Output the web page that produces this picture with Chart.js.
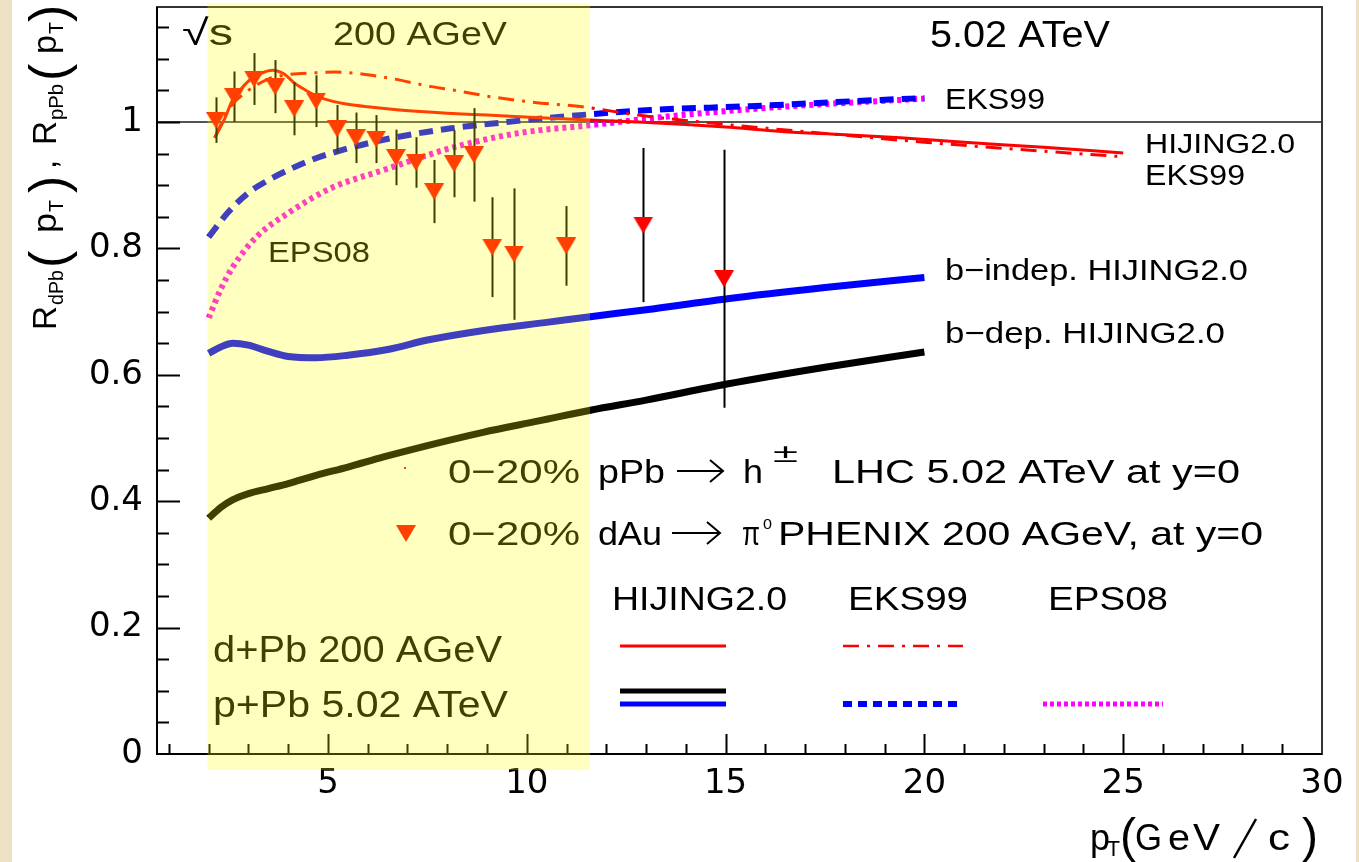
<!DOCTYPE html>
<html>
<head>
<meta charset="utf-8">
<script src="https://cdn.jsdelivr.net/npm/chart.js@4.4.1/dist/chart.umd.min.js"></script>
<style>
  html, body { margin: 0; padding: 0; background: #fff; overflow: hidden; }
  canvas { display: block; }
</style>
</head>
<body>
<canvas id="chart" width="1359" height="862"></canvas>
<script>
// Axis ticks
const xTicks = [5, 10, 15, 20, 25, 30];
const yTicks = [0, 0.2, 0.4, 0.6, 0.8, 1];

// PHENIX dAu -> pi0, 0-20%, 200 AGeV
const phenixPt  = [2.18, 2.64, 3.14, 3.67, 4.15, 4.70, 5.23, 5.70, 6.21, 6.71, 7.21, 7.67, 8.17, 8.67, 9.13, 9.68, 10.99, 12.93, 14.96];
const phenixR   = [1.003, 1.040, 1.068, 1.056, 1.021, 1.033, 0.989, 0.975, 0.973, 0.944, 0.936, 0.890, 0.934, 0.948, 0.802, 0.791, 0.804, 0.837, 0.752];
const phenixErr = [0.036, 0.040, 0.041, 0.042, 0.042, 0.041, 0.038, 0.040, 0.038, 0.044, 0.040, 0.050, 0.053, 0.074, 0.079, 0.104, 0.063, 0.122, 0.204];

// HIJING2.0, d+Pb 200 AGeV
const hijDPbPt = [2.15, 2.4, 2.6, 2.85, 3.1, 3.35, 3.6, 3.9, 4.15, 4.45, 4.75, 5.1, 5.5, 6.0, 6.8, 8.0, 9.0, 10.6, 12.0, 12.8, 14.0, 15.0, 16.4, 18.0, 19.4, 21.0, 23.0, 25.0];
const hijDPbR  = [0.975, 1.005, 1.035, 1.055, 1.070, 1.078, 1.082, 1.076, 1.062, 1.050, 1.040, 1.033, 1.028, 1.024, 1.019, 1.014, 1.011, 1.006, 1.002, 1.000, 0.996, 0.992, 0.985, 0.980, 0.975, 0.968, 0.960, 0.951];

// EKS99, d+Pb 200 AGeV
const eksDPbPt = [2.15, 2.5, 3.0, 3.5, 4.0, 4.7, 5.2, 6.4, 7.6, 8.1, 9.1, 10.2, 11.4, 12.8, 15.2, 17.5, 20, 22.5, 25];
const eksDPbR  = [0.975, 1.02, 1.05, 1.068, 1.075, 1.078, 1.079, 1.071, 1.056, 1.051, 1.040, 1.031, 1.024, 1.011, 0.995, 0.982, 0.968, 0.956, 0.945];

// EKS99, p+Pb 5.02 ATeV
const eksPPbPt = [2.0, 2.5, 3.0, 3.5, 4.0, 4.5, 5.1, 6.4, 8.1, 9.5, 10.8, 13.1, 15.6, 18.9, 20];
const eksPPbR  = [0.818, 0.858, 0.888, 0.908, 0.924, 0.938, 0.951, 0.972, 0.990, 1.000, 1.008, 1.019, 1.025, 1.035, 1.038];

// EPS08, p+Pb 5.02 ATeV
const epsPPbPt = [2.0, 2.3, 2.6, 3.2, 4.05, 5.1, 6.4, 8.1, 9.75, 11.6, 13.9, 16.4, 19.4, 20];
const epsPPbR  = [0.690, 0.735, 0.770, 0.818, 0.858, 0.896, 0.924, 0.959, 0.982, 0.995, 1.011, 1.024, 1.035, 1.037];

// b-indep. HIJING2.0, p+Pb
const bIndepPt = [2.0, 2.3, 2.6, 3.0, 3.5, 4.0, 4.7, 5.5, 6.5, 7.5, 9.0, 10.5, 11.6, 13, 15, 17.5, 20];
const bIndepR  = [0.634, 0.644, 0.650, 0.647, 0.637, 0.629, 0.627, 0.631, 0.640, 0.655, 0.671, 0.683, 0.692, 0.703, 0.720, 0.738, 0.754];

// b-dep. HIJING2.0, p+Pb
const bDepPt = [2.0, 2.3, 2.6, 3.0, 3.5, 4.0, 4.7, 5.5, 6.4, 7.5, 8.9, 10.3, 11.6, 13, 15, 17.5, 20];
const bDepR  = [0.373, 0.390, 0.402, 0.412, 0.420, 0.428, 0.441, 0.454, 0.470, 0.488, 0.509, 0.527, 0.544, 0.560, 0.585, 0.612, 0.636];

// PHENIX 200 GeV shaded region in pT
const bandFrom = 1.97;
const bandTo = 11.59;

const FONT = '"Liberation Sans", Arial, Helvetica, sans-serif';

function pts(xs, ys) {
    return xs.map((x, i) => ({x: x, y: ys[i]}));
}

// down-pointing triangle marker
function makeTriangle() {
    const c = document.createElement('canvas');
    c.width = 20;
    c.height = 17;
    const g = c.getContext('2d');
    g.fillStyle = '#ff0000';
    g.beginPath();
    g.moveTo(0, 0);
    g.lineTo(20, 0);
    g.lineTo(10, 17);
    g.closePath();
    g.fill();
    return c;
}
const triangle = makeTriangle();

// text stretched to span x0..x1 (no stretch when x1 is null)
function label(ctx, str, x0, x1, base, size) {
    ctx.save();
    ctx.font = size + 'px ' + FONT;
    ctx.textBaseline = 'alphabetic';
    ctx.textAlign = 'left';
    const w = ctx.measureText(str).width;
    ctx.translate(x0, base);
    if (x1) ctx.scale((x1 - x0) / w, 1);
    ctx.fillText(str, 0, 0);
    ctx.restore();
}

function hline(ctx, x0, x1, y, color, width, dash) {
    ctx.save();
    ctx.strokeStyle = color;
    ctx.lineWidth = width;
    ctx.setLineDash(dash || []);
    ctx.beginPath();
    ctx.moveTo(x0, y);
    ctx.lineTo(x1, y);
    ctx.stroke();
    ctx.restore();
}

function arrow(ctx, x0, x1, y) {
    ctx.save();
    ctx.strokeStyle = '#000';
    ctx.lineWidth = 2;
    ctx.beginPath();
    ctx.moveTo(x0, y);
    ctx.lineTo(x1, y);
    ctx.moveTo(x1 - 13, y - 11);
    ctx.lineTo(x1, y);
    ctx.lineTo(x1 - 13, y + 11);
    ctx.stroke();
    ctx.restore();
}

const backdrop = {
    id: 'backdrop',
    beforeDraw(chart) {
        const ctx = chart.ctx;
        ctx.save();
        ctx.fillStyle = '#ffffff';
        ctx.fillRect(0, 0, chart.width, chart.height);
        ctx.fillStyle = '#ece1c4';
        ctx.fillRect(0, 0, 12, chart.height);
        ctx.fillRect(1356, 0, 3, chart.height);
        ctx.restore();
    },
    beforeDatasetsDraw(chart) {
        const ctx = chart.ctx;
        const a = chart.chartArea;
        const y1 = chart.scales.y.getPixelForValue(1);
        hline(ctx, a.left, a.right, y1, '#1a1a1a', 1.5);
    },
    beforeDatasetDraw(chart, args) {
        if (args.index !== 0) return;
        // error bars under the PHENIX markers
        const ctx = chart.ctx;
        const xs = chart.scales.x, ys = chart.scales.y;
        ctx.save();
        ctx.strokeStyle = '#000';
        ctx.lineWidth = 2;
        phenixPt.forEach((x, i) => {
            const px = Math.round(xs.getPixelForValue(x)) + 0.5;
            ctx.beginPath();
            ctx.moveTo(px, ys.getPixelForValue(phenixR[i] + phenixErr[i]));
            ctx.lineTo(px, ys.getPixelForValue(phenixR[i] - phenixErr[i]));
            ctx.stroke();
        });
        ctx.restore();
    },
    afterDraw(chart) {
        const ctx = chart.ctx;
        const a = chart.chartArea;
        const xs = chart.scales.x, ys = chart.scales.y;

        // ticks pointing inwards
        ctx.save();
        ctx.strokeStyle = '#000';
        ctx.lineWidth = 2;
        ctx.beginPath();
        for (let v = 1; v < 30; v++) {
            const px = Math.round(xs.getPixelForValue(v)) + 0.5;
            const len = v % 5 === 0 ? 20 : 10;
            ctx.moveTo(px, a.bottom);
            ctx.lineTo(px, a.bottom - len);
        }
        for (let k = 1; k <= 23; k++) {
            const v = k * 0.05;
            const py = Math.round(ys.getPixelForValue(v)) + 0.5;
            const len = k % 4 === 0 ? 23 : 12;
            ctx.moveTo(a.left, py);
            ctx.lineTo(a.left + len, py);
        }
        ctx.stroke();
        // frame
        ctx.strokeStyle = '#333';
        ctx.strokeRect(a.left, a.top, a.right - a.left, a.bottom - a.top);
        ctx.strokeStyle = '#000';
        ctx.beginPath();
        ctx.moveTo(a.left, a.top);
        ctx.lineTo(a.left, a.bottom);
        ctx.lineTo(a.right, a.bottom);
        ctx.stroke();
        ctx.restore();

        ctx.fillStyle = '#000';
        // annotations
        label(ctx, '\u221As', 182, 233, 45, 36);
        label(ctx, '200 AGeV', 333, 507, 45, 33);
        label(ctx, '5.02 ATeV', 930, 1110, 47, 37);
        label(ctx, 'EKS99', 945, 1045, 109, 29);
        label(ctx, 'HIJING2.0', 1145, 1295, 153, 28);
        label(ctx, 'EKS99', 1145, 1245, 185, 29);
        label(ctx, 'EPS08', 268, 370, 262, 30);
        label(ctx, 'b\u2212indep. HIJING2.0', 945, 1248, 280, 30);
        label(ctx, 'b\u2212dep. HIJING2.0', 945, 1225, 343, 30);

        // data legend
        ctx.fillStyle = '#ff0000';
        ctx.fillRect(404, 467, 2, 2);
        ctx.drawImage(triangle, 396, 525);
        ctx.fillStyle = '#000';
        label(ctx, '0\u221220%', 448, 580, 483, 34);
        label(ctx, 'pPb', 598, 665, 483, 34);
        arrow(ctx, 677, 723, 471);
        label(ctx, 'h', 743, 763, 483, 34);
        label(ctx, '\u00B1', 773, 798, 462, 26);
        label(ctx, 'LHC 5.02 ATeV at y=0', 832, 1240, 483, 34);
        label(ctx, '0\u221220%', 448, 580, 545, 34);
        label(ctx, 'dAu', 598, 662, 545, 34);
        arrow(ctx, 672, 720, 533);
        label(ctx, '\u03C0', 742, 760, 545, 34);
        label(ctx, '0', 763, 772, 529, 14);
        label(ctx, 'PHENIX 200 AGeV, at y=0', 778, 1263, 545, 34);

        // model legend
        label(ctx, 'HIJING2.0', 612, 787, 610, 34);
        label(ctx, 'EKS99', 848, 968, 610, 34);
        label(ctx, 'EPS08', 1048, 1168, 610, 34);
        label(ctx, 'd+Pb 200 AGeV', 213, 502, 662, 37);
        label(ctx, 'p+Pb 5.02 ATeV', 213, 508, 717, 37);
        hline(ctx, 620, 726, 646, '#ff0000', 3);
        hline(ctx, 843, 963, 646, '#ff0000', 2.5, [16, 8, 3, 8]);
        hline(ctx, 620, 726, 691, '#000000', 5);
        hline(ctx, 620, 726, 704, '#0000ff', 5);
        hline(ctx, 843, 962, 704, '#0000ff', 6, [9, 6]);
        hline(ctx, 1043, 1163, 704, '#ff00ff', 5, [4, 3]);

        // x axis title
        label(ctx, 'p', 1090, 1110, 850, 37);
        label(ctx, 'T', 1107, 1120, 856, 22);
        label(ctx, '(', 1120, null, 852, 48);
        label(ctx, 'G', 1135, 1162, 850, 37);
        label(ctx, 'e', 1168, 1190, 850, 37);
        label(ctx, 'V', 1193, 1220, 850, 37);
        ctx.save();
        ctx.strokeStyle = '#000';
        ctx.lineWidth = 2.5;
        ctx.beginPath();
        ctx.moveTo(1234, 858);
        ctx.lineTo(1256, 819);
        ctx.stroke();
        ctx.restore();
        label(ctx, 'c', 1268, 1290, 850, 37);
        label(ctx, ')', 1302, null, 852, 48);

        // y axis title, rotated
        ctx.save();
        ctx.translate(56, 330);
        ctx.rotate(-Math.PI / 2);
        const runs = [
            ['R', 0, 24, 0, 33], ['dPb', 25, 60, 7, 20], ['(', 62, null, 10, 52],
            ['p', 97, 117, 0, 33], ['T', 118, 130, 7, 20], [')', 137, null, 10, 52],
            [',', 161, null, 0, 33],
            ['R', 185, 209, 0, 33], ['pPb', 210, 246, 7, 20], ['(', 249, null, 10, 52],
            ['p', 276, 295, 0, 33], ['T', 296, 308, 7, 20], [')', 308, null, 10, 52]
        ];
        runs.forEach(r => label(ctx, r[0], r[1], r[2], r[3], r[4]));
        ctx.restore();

        // shaded 200 AGeV region on top of everything
        const bx0 = xs.getPixelForValue(bandFrom);
        const bx1 = xs.getPixelForValue(bandTo);
        ctx.save();
        ctx.fillStyle = 'rgba(255, 255, 0, 0.25)';
        ctx.fillRect(bx0, a.top - 4, bx1 - bx0, a.bottom - a.top + 20);
        ctx.restore();
    }
};

const curve = (data, color, width, dash) => ({
    data: data,
    showLine: true,
    borderColor: color,
    backgroundColor: color,
    borderWidth: width,
    borderDash: dash || [],
    pointRadius: 0,
    cubicInterpolationMode: 'monotone',
    fill: false
});

new Chart(document.getElementById('chart'), {
    type: 'scatter',
    data: {
        datasets: [
            {
                data: pts(phenixPt, phenixR),
                pointStyle: triangle,
                pointRadius: 10,
                showLine: false
            },
            curve(pts(hijDPbPt, hijDPbR), '#ff0000', 3),
            curve(pts(eksDPbPt, eksDPbR), '#ff0000', 3, [16, 8, 3, 8]),
            curve(pts(eksPPbPt, eksPPbR), '#0000ff', 6, [14, 8]),
            curve(pts(epsPPbPt, epsPPbR), '#ff00ff', 6, [4, 4]),
            curve(pts(bIndepPt, bIndepR), '#0000ff', 7),
            curve(pts(bDepPt, bDepR), '#000000', 7)
        ]
    },
    options: {
        responsive: false,
        animation: false,
        events: [],
        layout: { padding: {left: 0, top: 7, right: 37, bottom: 0}, autoPadding: false },
        plugins: { legend: {display: false}, tooltip: {enabled: false} },
        scales: {
            x: {
                type: 'linear',
                min: 0.7,
                max: 30,
                grid: {display: false, drawTicks: false},
                border: {display: false},
                afterBuildTicks: s => { s.ticks = xTicks.map(v => ({value: v})); },
                afterFit: s => { s.height = 108; s.paddingLeft = 0; s.paddingRight = 0; },
                ticks: {
                    font: {family: 'DejaVu Sans', size: 34},
                    color: '#000',
                    padding: 10,
                    maxRotation: 0,
                    autoSkip: false,
                    callback: v => String(v)
                }
            },
            y: {
                type: 'linear',
                min: 0,
                max: 1.182,
                grid: {display: false, drawTicks: false},
                border: {display: false},
                afterBuildTicks: s => { s.ticks = yTicks.map(v => ({value: v})); },
                afterFit: s => { s.width = 157; s.paddingTop = 0; s.paddingBottom = 0; },
                ticks: {
                    font: {family: 'DejaVu Sans', size: 34},
                    color: '#000',
                    padding: 14,
                    callback: v => String(v)
                }
            }
        }
    },
    plugins: [backdrop]
});
</script>
</body>
</html>
